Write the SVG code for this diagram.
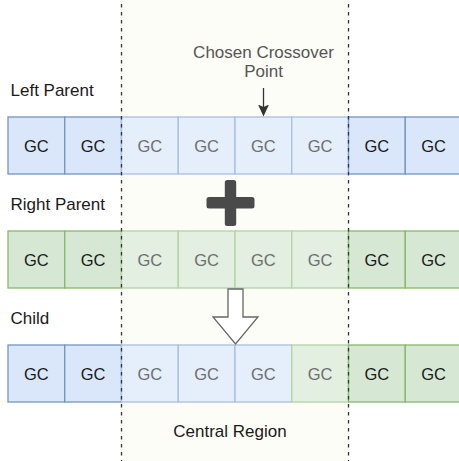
<svg xmlns="http://www.w3.org/2000/svg" width="459" height="461" viewBox="0 0 459 461">
  <style>
    .lbl { font-family: "Liberation Sans", Arial, sans-serif; font-size: 17px; fill: #1a1a1a; }
    .note { fill: #555555; }
    .gc { font-family: "Liberation Sans", Arial, sans-serif; font-size: 16.5px; text-anchor: middle; }
    .gc-dark { fill: #1a1a1a; }
    .gc-dim { fill: #6e6e6e; }
    .cell { stroke-width: 1.3; }
    .blue { fill: #dae7fb; stroke: #7394c4; }
    .blue-lt { fill: #e5eefb; stroke: #a8bfe0; }
    .green { fill: #d6e8d4; stroke: #88b76c; }
    .green-lt { fill: #e3efe1; stroke: #b2d3a2; }
    .divider { stroke: #333333; stroke-width: 1.3; stroke-dasharray: 3.5 4.5; fill: none; }
  </style>
  <defs>
    <marker id="arrowhead" markerUnits="userSpaceOnUse" markerWidth="12" markerHeight="13" refX="6" refY="2.5" orient="0" viewBox="0 0 12 13">
      <path d="M0.5 0 L6 12 L11.5 0 L6 2.5 Z" fill="#333333"/>
    </marker>
  </defs>

  <rect width="459" height="461" fill="#ffffff"/>
  <!-- central region shading -->
  <rect id="central-region-bg" x="121.5" y="0" width="227" height="461" fill="#fdfdf8"/>

  <!-- row labels -->
  <g id="label-left-parent"><text class="lbl" x="10.5" y="96">Left Parent</text></g>
  <g id="label-right-parent"><text class="lbl" x="10.5" y="210">Right Parent</text></g>
  <g id="label-child"><text class="lbl" x="10.5" y="324">Child</text></g>
  <g id="label-crossover">
    <text class="lbl note" x="263.5" y="58" text-anchor="middle">Chosen Crossover</text>
    <text class="lbl note" x="263.5" y="77" text-anchor="middle">Point</text>
  </g>
  <g id="label-central"><text class="lbl" x="230" y="437" text-anchor="middle">Central Region</text></g>

  <!-- left parent chromosome -->
  <g id="left-parent">
    <rect class="cell blue" x="8" y="117" width="56.75" height="57"/>
    <rect class="cell blue" x="64.75" y="117" width="56.75" height="57"/>
    <rect class="cell blue-lt" x="121.5" y="117" width="56.75" height="57"/>
    <rect class="cell blue-lt" x="178.25" y="117" width="56.75" height="57"/>
    <rect class="cell blue-lt" x="235" y="117" width="56.75" height="57"/>
    <rect class="cell blue-lt" x="291.75" y="117" width="56.75" height="57"/>
    <rect class="cell blue" x="348.5" y="117" width="56.75" height="57"/>
    <rect class="cell blue" x="405.25" y="117" width="56.75" height="57"/>
    <text class="gc gc-dark" x="36.4" y="151.5">GC</text>
    <text class="gc gc-dark" x="93.1" y="151.5">GC</text>
    <text class="gc gc-dim" x="149.9" y="151.5">GC</text>
    <text class="gc gc-dim" x="206.6" y="151.5">GC</text>
    <text class="gc gc-dim" x="263.4" y="151.5">GC</text>
    <text class="gc gc-dim" x="320.1" y="151.5">GC</text>
    <text class="gc gc-dark" x="376.9" y="151.5">GC</text>
    <text class="gc gc-dark" x="433.6" y="151.5">GC</text>
  </g>

  <!-- right parent chromosome -->
  <g id="right-parent">
    <rect class="cell green" x="8" y="231" width="56.75" height="57"/>
    <rect class="cell green" x="64.75" y="231" width="56.75" height="57"/>
    <rect class="cell green-lt" x="121.5" y="231" width="56.75" height="57"/>
    <rect class="cell green-lt" x="178.25" y="231" width="56.75" height="57"/>
    <rect class="cell green-lt" x="235" y="231" width="56.75" height="57"/>
    <rect class="cell green-lt" x="291.75" y="231" width="56.75" height="57"/>
    <rect class="cell green" x="348.5" y="231" width="56.75" height="57"/>
    <rect class="cell green" x="405.25" y="231" width="56.75" height="57"/>
    <text class="gc gc-dark" x="36.4" y="265.5">GC</text>
    <text class="gc gc-dark" x="93.1" y="265.5">GC</text>
    <text class="gc gc-dim" x="149.9" y="265.5">GC</text>
    <text class="gc gc-dim" x="206.6" y="265.5">GC</text>
    <text class="gc gc-dim" x="263.4" y="265.5">GC</text>
    <text class="gc gc-dim" x="320.1" y="265.5">GC</text>
    <text class="gc gc-dark" x="376.9" y="265.5">GC</text>
    <text class="gc gc-dark" x="433.6" y="265.5">GC</text>
  </g>

  <!-- child chromosome -->
  <g id="child">
    <rect class="cell blue" x="8" y="345" width="56.75" height="57"/>
    <rect class="cell blue" x="64.75" y="345" width="56.75" height="57"/>
    <rect class="cell blue-lt" x="121.5" y="345" width="56.75" height="57"/>
    <rect class="cell blue-lt" x="178.25" y="345" width="56.75" height="57"/>
    <rect class="cell blue-lt" x="235" y="345" width="56.75" height="57"/>
    <rect class="cell green-lt" x="291.75" y="345" width="56.75" height="57"/>
    <rect class="cell green" x="348.5" y="345" width="56.75" height="57"/>
    <rect class="cell green" x="405.25" y="345" width="56.75" height="57"/>
    <text class="gc gc-dark" x="36.4" y="379.5">GC</text>
    <text class="gc gc-dark" x="93.1" y="379.5">GC</text>
    <text class="gc gc-dim" x="149.9" y="379.5">GC</text>
    <text class="gc gc-dim" x="206.6" y="379.5">GC</text>
    <text class="gc gc-dim" x="263.4" y="379.5">GC</text>
    <text class="gc gc-dim" x="320.1" y="379.5">GC</text>
    <text class="gc gc-dark" x="376.9" y="379.5">GC</text>
    <text class="gc gc-dark" x="433.6" y="379.5">GC</text>
  </g>

  <!-- plus sign between the parents -->
  <g id="plus" fill="#4a4a4a">
    <rect x="224.8" y="180" width="11.4" height="46" rx="2.5"/>
    <rect x="206.5" y="197" width="48" height="11.4" rx="2.5"/>
  </g>

  <!-- hollow arrow down to the child -->
  <g id="result-arrow">
    <polygon points="228,289 243,289 243,317 258,317 235.5,344 213,317 228,317" fill="#ffffff" stroke="#666666" stroke-width="1.3" stroke-linejoin="miter"/>
  </g>

  <!-- region boundaries -->
  <g id="dividers">
    <line class="divider" x1="121.5" y1="4" x2="121.5" y2="461"/>
    <line class="divider" x1="348.5" y1="4" x2="348.5" y2="461"/>
  </g>

  <!-- connectors -->
  <g id="connectors">
    <line x1="263.5" y1="88" x2="263.5" y2="107" stroke="#333333" stroke-width="1.3" marker-end="url(#arrowhead)"/>
  </g>
</svg>
